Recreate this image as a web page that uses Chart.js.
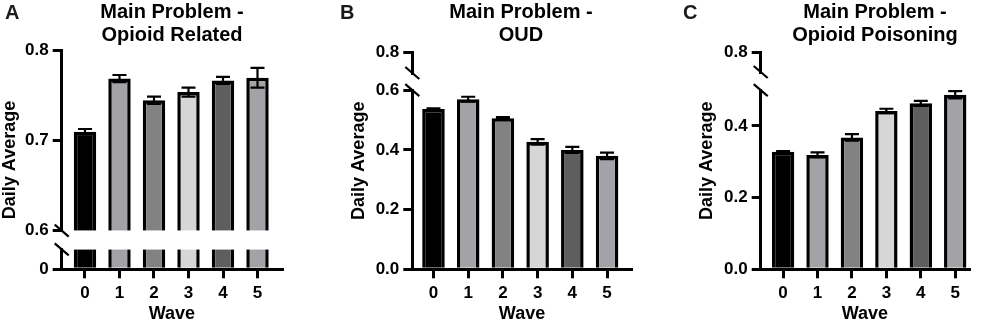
<!DOCTYPE html>
<html>
<head>
<meta charset="utf-8">
<script src="https://cdn.jsdelivr.net/npm/chart.js@4.4.1/dist/chart.umd.min.js"></script>
<style>
  html, body { margin: 0; padding: 0; background: #fff; }
  #wrap { position: relative; width: 982px; height: 327px; overflow: hidden; }
  #wrap canvas { position: absolute; top: 0; }
</style>
</head>
<body>
<div id="wrap">
  <canvas id="chartA" width="327" height="327" style="left:0px"></canvas>
  <canvas id="chartB" width="328" height="327" style="left:327px"></canvas>
  <canvas id="chartC" width="327" height="327" style="left:655px"></canvas>
</div>
<script>
// ---- data ----
const waves = ['0', '1', '2', '3', '4', '5'];
const barColors = ['#000000', '#a2a2a7', '#828282', '#d6d6d6', '#5e5e5e', '#a2a2a7'];

const opioidRelated = [0.710, 0.769, 0.745, 0.754, 0.767, 0.770];
const opioidRelatedErr = [0.003, 0.004, 0.004, 0.005, 0.004, 0.011];

const oud = [0.537, 0.570, 0.506, 0.427, 0.400, 0.380];
const oudErr = [0.002, 0.008, 0.004, 0.009, 0.010, 0.011];

const poisoning = [0.328, 0.319, 0.368, 0.442, 0.463, 0.487];
const poisoningErr = [0.002, 0.007, 0.009, 0.006, 0.007, 0.010];

const tickValuesA = [0, 0.6, 0.7, 0.8];
const tickLabelsA = ['0', '0.6', '0.7', '0.8'];
const tickValuesB = [0, 0.2, 0.4, 0.6, 0.8];
const tickLabelsB = ['0.0', '0.2', '0.4', '0.6', '0.8'];
const tickValuesC = [0, 0.2, 0.4, 0.8];
const tickLabelsC = ['0.0', '0.2', '0.4', '0.8'];

const FONT = "'Liberation Sans', Arial, sans-serif";
Chart.defaults.font.family = FONT;
Chart.defaults.color = '#000';

const panels = [
  {
    id: 'chartA', letter: 'A', title: ['Main Problem -', 'Opioid Related'],
    values: opioidRelated, errors: opioidRelatedErr,
    tickValues: tickValuesA, tickLabels: tickLabelsA,
    low: [0, 0.02], high: [0.6, 0.8], weights: [180, 18.6, 20],
    left: 61.7, right: 282, top: 50.7, xMin: -0.675, xMax: 5.71,
    letterX: 5, titleX: 172, yTitleX: 10
  },
  {
    id: 'chartB', letter: 'B', title: ['Main Problem -', 'OUD'],
    values: oud, errors: oudErr,
    tickValues: tickValuesB, tickLabels: tickLabelsB,
    low: [0, 0.6], high: [0.73, 0.8], weights: [20.7, 17.2, 179.1],
    left: 85.3, right: 304.7, top: 52.3, xMin: -0.61, xMax: 5.71,
    letterX: 13, titleX: 194, yTitleX: 32
  },
  {
    id: 'chartC', letter: 'C', title: ['Main Problem -', 'Opioid Poisoning'],
    values: poisoning, errors: poisoningErr,
    tickValues: tickValuesC, tickLabels: tickLabelsC,
    low: [0, 0.5], high: [0.745, 0.8], weights: [19.7, 18.1, 179.2],
    left: 105.7, right: 314, top: 52.3, xMin: -0.65, xMax: 5.40,
    letterX: 28, titleX: 220, yTitleX: 52.5
  }
];

const CHART_BOTTOM = 269.3;

function makePanel(p) {
  const canvas = document.getElementById(p.id);
  const W = canvas.width, H = canvas.height;

  const segTicks = (range) => p.tickValues.filter(v => v >= range[0] - 1e-9 && v <= range[1] + 1e-9);
  const tickLabel = (v) => {
    const i = p.tickValues.findIndex(t => Math.abs(t - v) < 1e-9);
    return i >= 0 ? p.tickLabels[i] : '';
  };

  // one segment of the broken y axis; segments share a stack
  const yAxis = (range, stackWeight, order, shown) => ({
    type: 'linear',
    position: 'left',
    stack: 'broken',
    stackWeight: stackWeight,
    weight: order,
    min: range[0],
    max: range[1],
    afterBuildTicks: s => { s.ticks = shown ? segTicks(range).map(v => ({ value: v })) : []; },
    afterFit: s => { s.width = p.left; },
    ticks: {
      display: shown,
      padding: 4,
      font: { size: 17, weight: 'bold' },
      callback: v => tickLabel(v)
    },
    grid: {
      display: shown,
      drawOnChartArea: false,
      drawTicks: true,
      tickLength: 9,
      color: '#000',
      lineWidth: 3
    },
    border: { display: shown, color: '#000', width: 3 }
  });

  const lowMax = p.low[1];
  const datasets = [{
    label: 'low',
    yAxisID: 'yLow',
    data: p.values.map(v => Math.min(v, lowMax)),
    backgroundColor: barColors,
    borderColor: '#000',
    borderWidth: ctx => p.values[ctx.dataIndex] > lowMax ? { left: 3.5, right: 3.5, top: 0, bottom: 0 } : 3.5,
    grouped: false,
    barPercentage: 0.65,
    categoryPercentage: 1
  }];
  if (p.values.some(v => v > p.high[0])) {
    datasets.push({
      label: 'high',
      yAxisID: 'yHigh',
      data: p.values.map(v => v > p.high[0] ? [p.high[0], v] : null),
      backgroundColor: barColors,
      borderColor: '#000',
      borderWidth: 3.5,
      borderSkipped: 'start',
      grouped: false,
      barPercentage: 0.65,
      categoryPercentage: 1
    });
  }

  // error bars, placed on whichever segment holds the bar top
  const errorBars = {
    id: 'errorBars',
    afterDatasetsDraw(chart) {
      const { ctx, scales } = chart;
      ctx.save();
      ctx.strokeStyle = '#000';
      ctx.lineWidth = 2.2;
      p.values.forEach((v, i) => {
        const s = v > lowMax ? scales.yHigh : scales.yLow;
        const x = scales.x.getPixelForValue(i);
        const yt = s.getPixelForValue(v + p.errors[i]);
        const yb = s.getPixelForValue(v - p.errors[i]);
        ctx.beginPath();
        ctx.moveTo(x, yt); ctx.lineTo(x, yb);
        ctx.moveTo(x - 7, yt); ctx.lineTo(x + 7, yt);
        ctx.moveTo(x - 7, yb); ctx.lineTo(x + 7, yb);
        ctx.stroke();
      });
      ctx.restore();
    }
  };

  // axis break marks + panel letter, title, y title
  const decorations = {
    id: 'decorations',
    afterDraw(chart) {
      const { ctx, scales, chartArea } = chart;
      const x = chartArea.left;
      ctx.save();
      ctx.strokeStyle = '#000';
      ctx.lineWidth = 2.2;
      [scales.yHigh.bottom, scales.yLow.top].forEach(y => {
        ctx.beginPath();
        ctx.moveTo(x - 7, y - 6);
        ctx.lineTo(x + 7, y + 6);
        ctx.stroke();
      });

      ctx.fillStyle = '#1a1a1a';
      ctx.textBaseline = 'middle';
      ctx.textAlign = 'left';
      ctx.font = 'bold 20px ' + FONT;
      ctx.fillText(p.letter, p.letterX, 13);

      ctx.fillStyle = '#000';
      ctx.textAlign = 'center';
      ctx.font = 'bold 20px ' + FONT;
      ctx.fillText(p.title[0], p.titleX, 12.5);
      ctx.fillText(p.title[1], p.titleX, 35);

      ctx.font = 'bold 18px ' + FONT;
      ctx.translate(p.yTitleX, (chartArea.top + chartArea.bottom) / 2);
      ctx.rotate(-Math.PI / 2);
      ctx.fillText('Daily Average', 0, 0);
      ctx.restore();
    }
  };

  return new Chart(canvas, {
    type: 'bar',
    data: { labels: waves, datasets },
    options: {
      responsive: false,
      animation: false,
      layout: { padding: { left: 0, right: W - p.right, top: p.top, bottom: 0 } },
      plugins: { legend: { display: false }, tooltip: { enabled: false }, title: { display: false } },
      scales: {
        x: {
          type: 'linear',
          offset: false,
          min: p.xMin,
          max: p.xMax,
          afterBuildTicks: s => { s.ticks = waves.map(w => ({ value: Number(w) })); },
          afterFit: s => { s.height = H - CHART_BOTTOM; },
          ticks: { padding: 5, font: { size: 17, weight: 'bold' }, callback: v => waves[v] },
          grid: { offset: false, drawOnChartArea: false, drawTicks: true, tickLength: 9, color: '#000', lineWidth: 3 },
          border: { color: '#000', width: 3 },
          title: { display: true, text: 'Wave', font: { size: 18, weight: 'bold' }, padding: { top: 0, bottom: 2 } }
        },
        // left stacks are laid out in reverse weight order: highest weight on top
        yHigh: yAxis(p.high, p.weights[0], 3, true),
        yGap: yAxis([0, 1], p.weights[1], 2, false),
        yLow: yAxis(p.low, p.weights[2], 1, true)
      }
    },
    plugins: [errorBars, decorations]
  });
}

panels.forEach(makePanel);
</script>
</body>
</html>
